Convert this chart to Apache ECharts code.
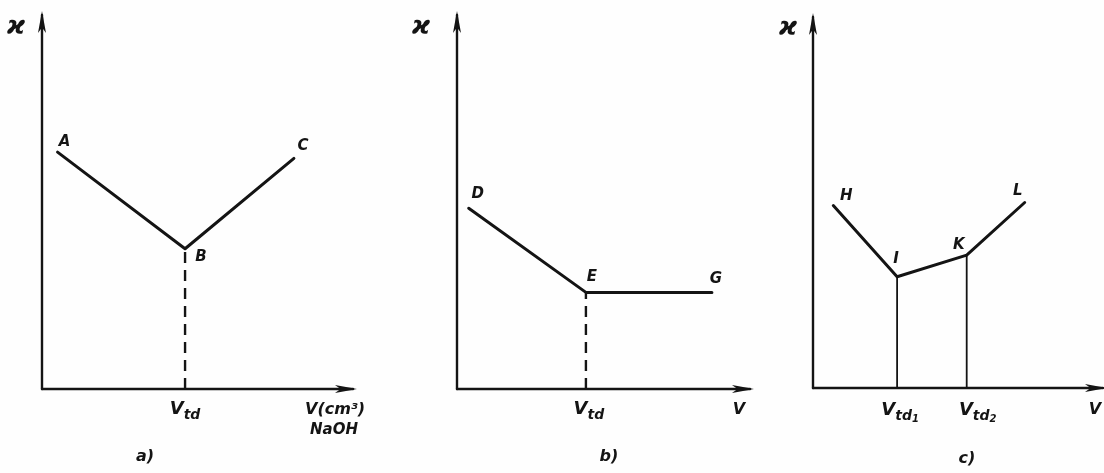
<!DOCTYPE html>
<html>
<head>
<meta charset="utf-8">
<style>
  html, body { margin: 0; padding: 0; background: #fefefe; }
  #chart { width: 1104px; height: 473px; }
</style>
<script src="https://cdn.jsdelivr.net/npm/echarts@6/dist/echarts.min.js"></script>
</head>
<body>
<div id="chart"></div>
<script>
// Conductometric titration curves: conductivity (ϰ) versus titrant volume V.
// a) strong acid with NaOH, b) weak acid, c) mixture of two acids.

// Panel a: A – B – C
const curveANames = ['A', 'B', 'C'];
const curveAV = [0.5, 4.6, 8.1];
const curveAK = [7.6, 4.5, 7.4];

// Panel b: D – E – G
const curveBNames = ['D', 'E', 'G'];
const curveBV = [0.4, 4.4, 8.7];
const curveBK = [5.8, 3.1, 3.1];

// Panel c: H – I – K – L
const curveCNames = ['H', 'I', 'K', 'L'];
const curveCV = [0.7, 2.9, 5.3, 7.3];
const curveCK = [5.9, 3.6, 4.3, 6.0];

// Equivalence points (index into each curve) and their axis labels
const equivA = [1];
const equivB = [1];
const equivC = [1, 2];
const equivLabelsA = ['{v|V}{t|td}'];
const equivLabelsB = ['{v|V}{t|td}'];
const equivLabelsC = ['{v|V}{t|td}{n|1}', '{v|V}{t|td}{n|2}'];

// Axis names and panel captions
const yAxisName = 'ϰ';
const xAxisNamesA = ['V(cm³)', 'NaOH'];
const xAxisNameB = 'V';
const xAxisNameC = 'V';
const panelCaptions = ['a)', 'b)', 'c)'];

// Label offsets for point names (layout only)
const nameOffsetsA = [[7, -10], [16, 8], [9, -12]];
const nameOffsetsB = [[9, -14], [6, -15], [4, -13]];
const nameOffsetsC = [[13, -9], [-1, -18], [-8, -10], [-7, -11]];
const equivOffsetsA = [[0, 22]];
const equivOffsetsB = [[3, 22]];
const equivOffsetsC = [[3, 24], [11, 24]];

const INK = '#141414';
const FONT = 'DejaVu Sans';

const pts = (vs, ks) => vs.map((v, i) => [v, ks[i]]);

const grids = [
  { left: 42, top: 15, width: 311, height: 374 },
  { left: 457, top: 15, width: 293, height: 374 },
  { left: 813, top: 17, width: 290, height: 371 }
];

const baseAxisLine = {
  show: true,
  onZero: false,
  symbol: ['none', 'arrow'],
  symbolSize: [6, 22],
  symbolOffset: [0, 4],
  lineStyle: { color: INK, width: 2.4 }
};

const xAxes = grids.map((g, i) => ({
  type: 'value', gridIndex: i, min: 0, max: 10,
  axisLine: baseAxisLine, axisTick: { show: false },
  axisLabel: { show: false }, splitLine: { show: false }
}));
const yAxes = grids.map((g, i) => ({
  type: 'value', gridIndex: i, min: 0, max: 12,
  axisLine: baseAxisLine, axisTick: { show: false },
  axisLabel: { show: false }, splitLine: { show: false }
}));

const richSub = {
  v: { fontSize: 18, fontFamily: FONT, fontStyle: 'italic', fontWeight: 'bold', color: INK, padding: [0, 0, 4, 0] },
  t: { fontSize: 14, fontFamily: FONT, fontStyle: 'italic', fontWeight: 'bold', color: INK, padding: [8, 0, 0, 0] },
  n: { fontSize: 10, fontFamily: FONT, fontStyle: 'italic', fontWeight: 'bold', color: INK, padding: [14, 0, 0, 0] }
};

// Invisible anchor points that carry text labels
const anchorStyle = { color: 'transparent', opacity: 1 };

function curveSeries(idx, vs, ks) {
  return {
    type: 'line', xAxisIndex: idx, yAxisIndex: idx,
    data: pts(vs, ks), symbol: 'none', animation: false,
    lineStyle: { color: INK, width: 3, cap: 'round', join: 'round' }
  };
}

function nameSeries(idx, vs, ks, names, offsets) {
  return {
    type: 'scatter', xAxisIndex: idx, yAxisIndex: idx,
    symbolSize: 1, itemStyle: anchorStyle, animation: false,
    data: vs.map((v, i) => ({
      name: names[i], value: [v, ks[i]],
      label: { offset: offsets[i] }
    })),
    label: {
      show: true, position: 'inside', formatter: '{b}',
      fontFamily: FONT, fontStyle: 'italic', fontWeight: 'bold',
      fontSize: 15, color: INK, textBorderWidth: 0
    }
  };
}

function dropSeries(idx, vs, ks, eq, dashed) {
  return eq.map(j => ({
    type: 'line', xAxisIndex: idx, yAxisIndex: idx,
    data: [[vs[j], 0], [vs[j], ks[j]]], symbol: 'none', animation: false,
    lineStyle: { color: INK, width: dashed ? 2.4 : 1.8, type: dashed ? [11, 7] : 'solid' }
  }));
}

function equivLabelSeries(idx, vs, eq, labels, offsets) {
  return {
    type: 'scatter', xAxisIndex: idx, yAxisIndex: idx,
    symbolSize: 1, itemStyle: anchorStyle, animation: false,
    data: eq.map((j, i) => ({
      value: [vs[j], 0],
      label: { formatter: labels[i], offset: offsets[i] }
    })),
    label: { show: true, position: 'inside', rich: richSub, textBorderWidth: 0 }
  };
}

const textStyle = (txt, size, x, y, align) => ({
  type: 'text', x, y,
  style: {
    text: txt, fontFamily: FONT, fontStyle: 'italic', fontWeight: 'bold',
    fontSize: size, fill: INK, align: align || 'center', verticalAlign: 'middle'
  }
});

const graphic = [
  textStyle(yAxisName, 25, 16, 27),
  textStyle(yAxisName, 25, 421, 27),
  textStyle(yAxisName, 25, 788, 28),
  textStyle(xAxisNamesA[0], 16, 305, 410, 'left'),
  textStyle(xAxisNamesA[1], 15, 310, 430, 'left'),
  textStyle(xAxisNameB, 16, 739, 410),
  textStyle(xAxisNameC, 16, 1095, 410),
  textStyle(panelCaptions[0], 16, 145, 457),
  textStyle(panelCaptions[1], 16, 609, 457),
  textStyle(panelCaptions[2], 16, 967, 459)
];

const chart = echarts.init(document.getElementById('chart'), null, { renderer: 'canvas' });
chart.setOption({
  backgroundColor: '#fefefe',
  animation: false,
  grid: grids,
  xAxis: xAxes,
  yAxis: yAxes,
  graphic,
  series: [
    curveSeries(0, curveAV, curveAK),
    curveSeries(1, curveBV, curveBK),
    curveSeries(2, curveCV, curveCK),
    ...dropSeries(0, curveAV, curveAK, equivA, true),
    ...dropSeries(1, curveBV, curveBK, equivB, true),
    ...dropSeries(2, curveCV, curveCK, equivC, false),
    nameSeries(0, curveAV, curveAK, curveANames, nameOffsetsA),
    nameSeries(1, curveBV, curveBK, curveBNames, nameOffsetsB),
    nameSeries(2, curveCV, curveCK, curveCNames, nameOffsetsC),
    equivLabelSeries(0, curveAV, equivA, equivLabelsA, equivOffsetsA),
    equivLabelSeries(1, curveBV, equivB, equivLabelsB, equivOffsetsB),
    equivLabelSeries(2, curveCV, equivC, equivLabelsC, equivOffsetsC)
  ]
});
</script>
</body>
</html>
